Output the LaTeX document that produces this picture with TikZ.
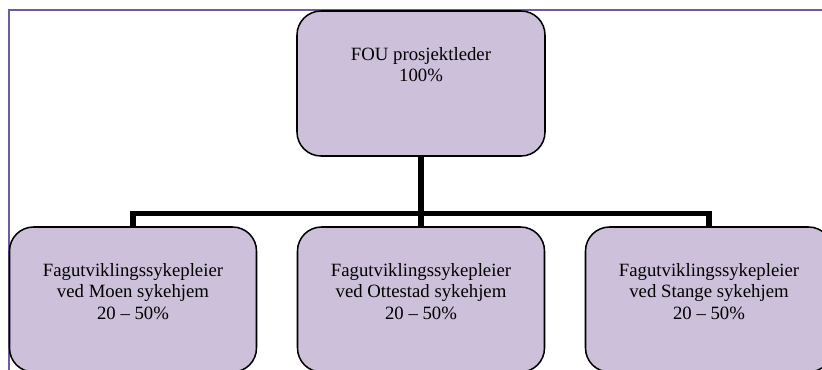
\documentclass[tikz,border=0pt]{standalone}
\usepackage{fontspec}
\setmainfont{Liberation Serif}
\usetikzlibrary{positioning}
\definecolor{boxfill}{HTML}{CCC0DA}
\definecolor{framepurple}{RGB}{110,92,158}
\tikzset{
orgbox/.style = {draw, line width=1.3pt, fill=boxfill, rectangle, rounded corners=0.72cm, minimum width=7.41cm, minimum height=4.35cm},
boxtext/.style = {inner sep=0pt, align=center, font=\fontsize{16}{18.3}\selectfont},
link/.style = {line width=4.3pt, line join=miter},
tmp/.style = {coordinate}
}

\begin{document}
\begin{tikzpicture}[node distance=8.64cm]
  \useasboundingbox (0,0) rectangle (24.66,-11.07);

  % frame lines at top and left
  \coordinate (framebl) at (0.27,-11.2);
  \coordinate (frametl) at (0.27,-0.30);
  \coordinate (frametr) at (24.8,-0.30);
  \draw [framepurple, line width=1.7pt] (framebl) -- (frametl) -- (frametr);

  \node [orgbox, minimum width=7.44cm] at (12.63,-2.505)       (lead)     {};
  \node [orgbox, below of=lead, node distance=6.48cm]          (ottestad) {};
  \node [orgbox, left of=ottestad]                             (moen)     {};
  \node [orgbox, right of=ottestad]                            (stange)   {};

  \node [boxtext, below=1.11cm of lead.north]     (leadtxt)     {FOU prosjektleder\\100\%};
  \node [boxtext, below=1.11cm of moen.north]     (moentxt)     {Fagutviklingssykepleier\\ved Moen sykehjem\\20 – 50\%};
  \node [boxtext, below=1.11cm of ottestad.north] (ottestadtxt) {Fagutviklingssykepleier\\ved Ottestad sykehjem\\20 – 50\%};
  \node [boxtext, below=1.11cm of stange.north]   (stangetxt)   {Fagutviklingssykepleier\\ved Stange sykehjem\\20 – 50\%};

  \draw [link] (lead.south) -- ++(0,-1.71) coordinate (hub);
  \draw [link] (moen.north) |- (hub) -| (stange.north);
  \draw [link] (hub) -- (ottestad.north);
\end{tikzpicture}
\end{document}
